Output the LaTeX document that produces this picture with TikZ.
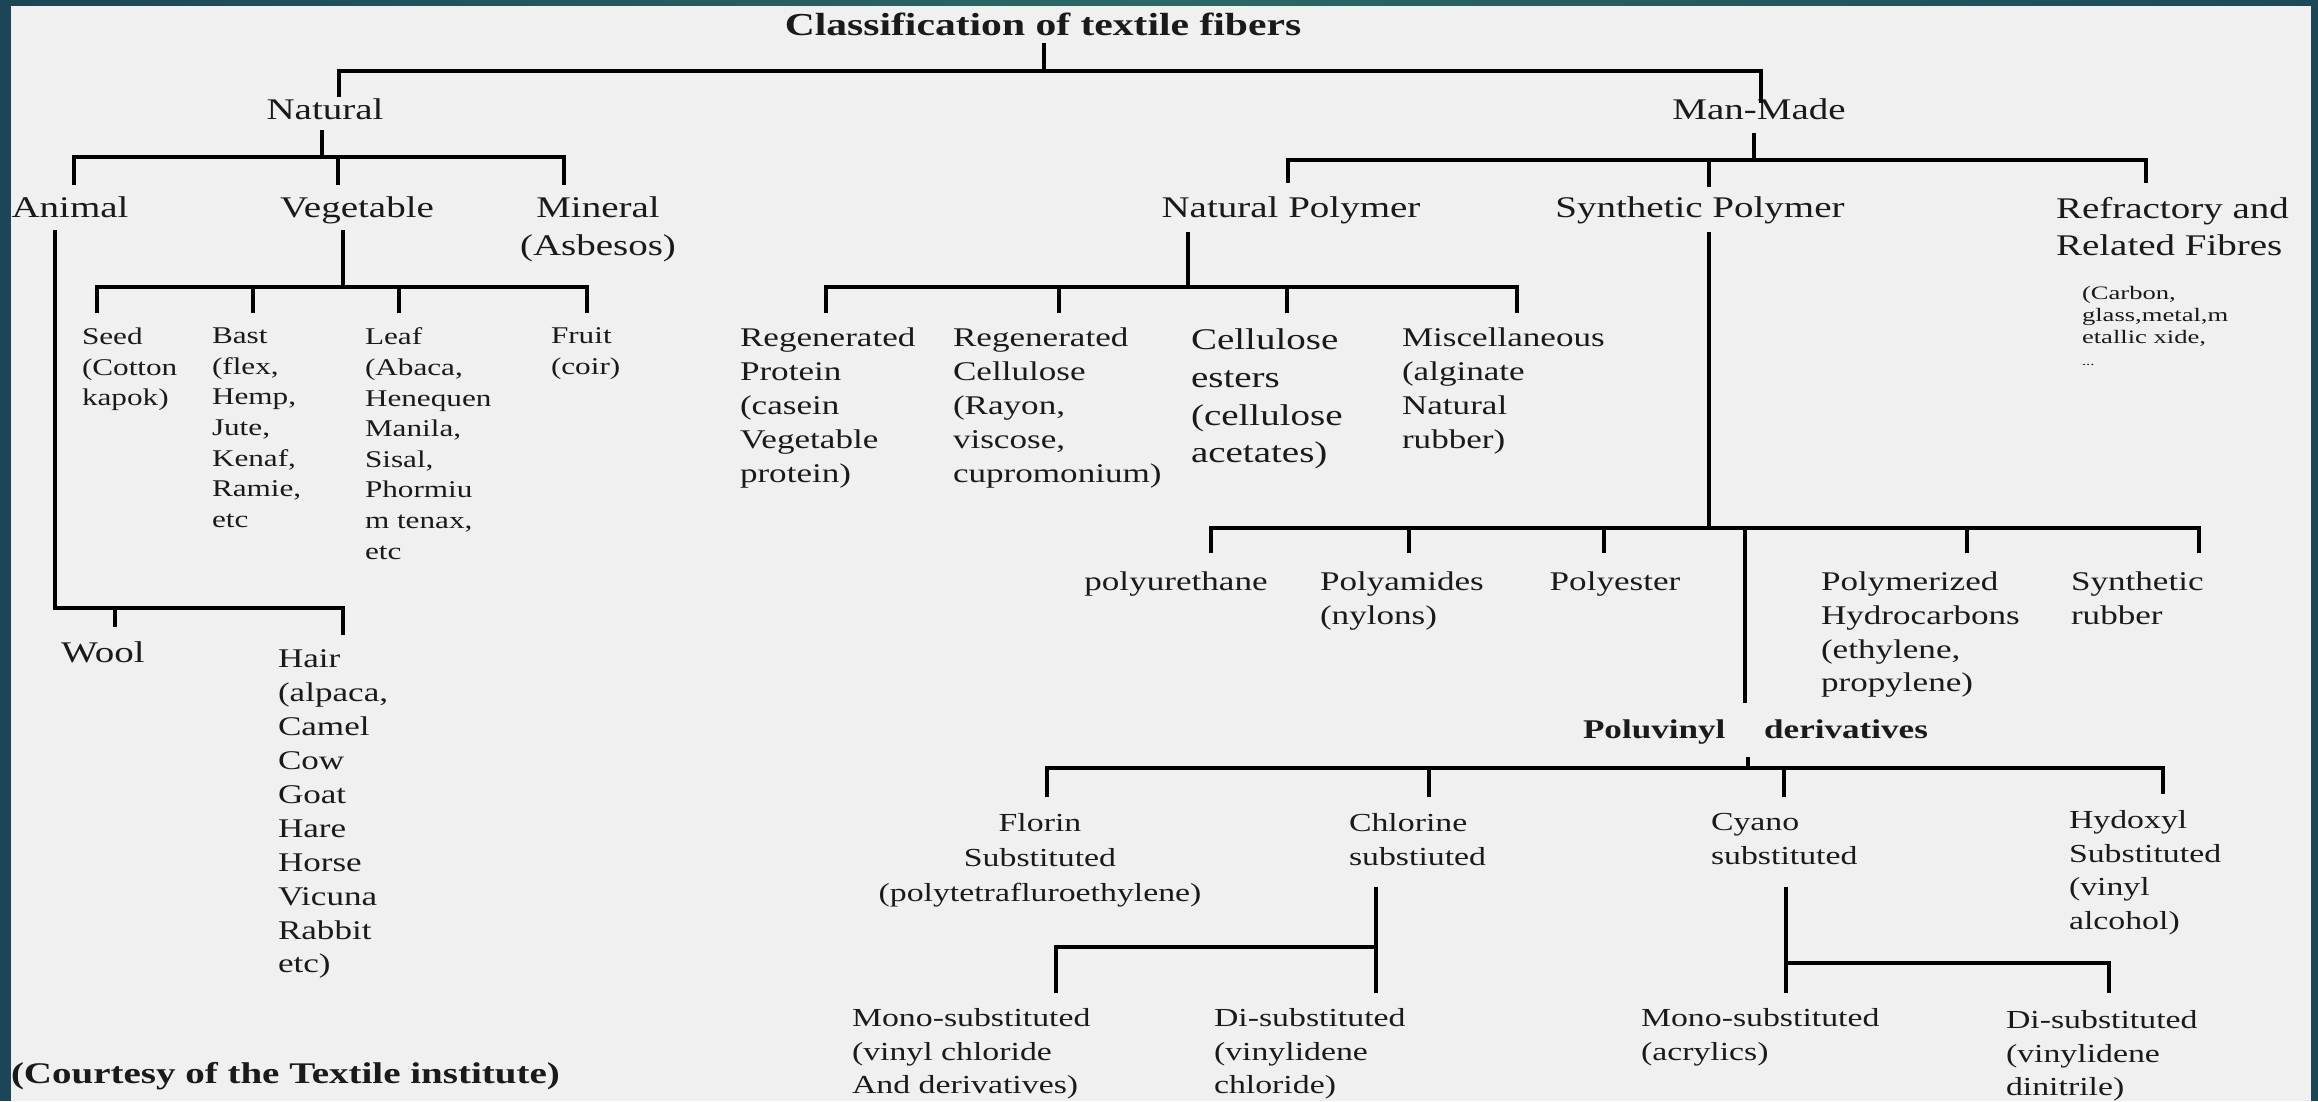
\documentclass[tikz,border=0pt]{standalone}
\usepackage{fontspec}
\setmainfont{Liberation Serif}[FakeStretch=1.3]
\newfontfamily\widefont{Liberation Serif}[FakeStretch=1.4]
\definecolor{ink}{HTML}{1A1A1A}
\definecolor{paper}{HTML}{F0F0F0}
\definecolor{tealA}{HTML}{1B4655}
\definecolor{tealB}{HTML}{2E6866}
\definecolor{tealC}{HTML}{1C4956}
\begin{document}
\begin{tikzpicture}[x=1pt,y=-1pt,
  lbl/.style={inner sep=0pt, outer sep=0pt, text=ink, align=left},
  fbig/.style={lbl, font=\fontsize{30}{38}\selectfont},
  fmid/.style={lbl, font=\fontsize{27}{34}\selectfont},
  fveg/.style={lbl, font=\fontsize{24}{30.6}\selectfont},
  fbot/.style={lbl, font=\fontsize{26}{34}\selectfont},
  ftiny/.style={lbl, font=\widefont\fontsize{19}{22}\selectfont},
  conn/.style={draw=black, line width=4.2pt, line join=miter}]
\useasboundingbox (0,0) rectangle (2318,1101);
% background
\fill[tealA] (0,0) rectangle (2318,1101);
\shade[left color=tealA, right color=tealC, middle color=tealB] (0,0) rectangle (2318,7);
\fill[paper] (11,6) rectangle (2311,1101);

% ---------- nodes ----------
\node[lbl, font=\bfseries\fontsize{32}{38}\selectfont, anchor=north] (title) at (1043,13.3) {Classification of textile fibers};
\node[fbig, anchor=north] (natural) at (325,99) {Natural};
\node[fbig, anchor=north] (manmade) at (1759,99) {Man-Made};

\node[fbig, anchor=north] (animal) at (70,197) {Animal};
\node[fbig, anchor=north] (vegetable) at (357,197) {Vegetable};
\node[fbig, anchor=north, align=center] (mineral) at (598,197) {Mineral\\(Asbesos)};

\node[fveg, anchor=north west] (seed) at (82,328) {Seed\\(Cotton\\kapok)};
\node[fveg, anchor=north west] (bast) at (212,328) {Bast\\(flex,\\Hemp,\\Jute,\\Kenaf,\\Ramie,\\etc};
\node[fveg, anchor=north west] (leaf) at (365,328) {Leaf\\(Abaca,\\Henequen\\Manila,\\Sisal,\\Phormiu\\m tenax,\\etc};
\node[fveg, anchor=north west] (fruit) at (551,328) {Fruit\\(coir)};

\node[fbig, anchor=north] (wool) at (103,642) {Wool};
\node[lbl, font=\fontsize{27}{33.9}\selectfont, anchor=north west] (hair) at (278,650) {Hair\\(alpaca,\\Camel\\Cow\\Goat\\Hare\\Horse\\Vicuna\\Rabbit\\etc)};

\node[lbl, font=\bfseries\fontsize{30}{36}\selectfont, anchor=north west] (courtesy) at (11,1062) {(Courtesy of the Textile institute)};

\node[fbig, anchor=north] (natpoly) at (1291,197) {Natural Polymer};
\node[fbig, anchor=north] (synpoly) at (1700,197) {Synthetic Polymer};
\node[lbl, font=\fontsize{30}{37}\selectfont, anchor=north west] (refr) at (2056,197) {Refractory and\\Related Fibres};
\node[ftiny, anchor=north west] (refrsub) at (2082,286) {(Carbon,\\glass,metal,m\\etallic xide,\\{\fontsize{12}{22}\selectfont ...}};

\node[fmid, anchor=north west] (regprot) at (740,328) {Regenerated\\Protein\\(casein\\Vegetable\\protein)};
\node[fmid, anchor=north west] (regcell) at (953,328) {Regenerated\\Cellulose\\(Rayon,\\viscose,\\cupromonium)};
\node[lbl, font=\fontsize{30}{37.7}\selectfont, anchor=north west] (celest) at (1191,329) {Cellulose\\esters\\(cellulose\\acetates)};
\node[fmid, anchor=north west] (misc) at (1402,328) {Miscellaneous\\(alginate\\Natural\\rubber)};

\node[fmid, anchor=north] (polyur) at (1176,572) {polyurethane};
\node[fmid, anchor=north west] (polyam) at (1320,572) {Polyamides\\(nylons)};
\node[fmid, anchor=north] (polyes) at (1615,572) {Polyester};
\node[lbl, font=\fontsize{27}{33.7}\selectfont, anchor=north west] (polyhc) at (1821,572) {Polymerized\\Hydrocarbons\\(ethylene,\\propylene)};
\node[fmid, anchor=north west] (synrub) at (2071,572) {Synthetic\\rubber};

\node[lbl, font=\bfseries\fontsize{27}{33}\selectfont, anchor=north west] (poluv) at (1583,720) {Poluvinyl\hspace{30pt} derivatives};

\node[lbl, font=\fontsize{26}{35}\selectfont, anchor=north, align=center] (florin) at (1040,813.5) {Florin\\Substituted\\(polytetrafluroethylene)};
\node[fbot, anchor=north west] (chlor) at (1349,813.5) {Chlorine\\substiuted};
\node[fbot, anchor=north west] (cyano) at (1711,813.5) {Cyano\\substituted};
\node[lbl, font=\fontsize{26}{33.5}\selectfont, anchor=north west] (hydox) at (2069,810.5) {Hydoxyl\\Substituted\\(vinyl\\alcohol)};

\node[lbl, font=\fontsize{26}{33.5}\selectfont, anchor=north west] (mono1) at (852,1008.5) {Mono-substituted\\(vinyl chloride\\And derivatives)};
\node[lbl, font=\fontsize{26}{33.5}\selectfont, anchor=north west] (di1) at (1214,1008.5) {Di-substituted\\(vinylidene\\chloride)};
\node[lbl, font=\fontsize{26}{33.5}\selectfont, anchor=north west] (mono2) at (1641,1008.5) {Mono-substituted\\(acrylics)};
\node[lbl, font=\fontsize{26}{33.5}\selectfont, anchor=north west] (di2) at (2006,1010.5) {Di-substituted\\(vinylidene\\dinitrile)};

% ---------- junction coordinates ----------
\coordinate (jT) at (1044,71);
\coordinate (jN) at (322,157);
\coordinate (jA) at (55,608);
\coordinate (jV) at (343,287);
\coordinate (jM) at (1754,160);
\coordinate (jNP) at (1188,287);
\coordinate (jSP) at (1709,528);
\coordinate (jPV) at (1748,768);
\coordinate (jCl) at (1376,947);
\coordinate (jCy) at (1786,963);

% ---------- connectors ----------
% root
\draw[conn] (1044,43) -- (jT);
\draw[conn] (339,97) -- (339,71) -- (1761,71) -- (1761,103);
% natural
\draw[conn] (322,130) -- (jN);
\draw[conn] (74,185) -- (74,157) -- (564,157) -- (564,185);
\draw[conn] (338,157) -- (338,185);
% animal
\draw[conn] (55,230) -- (jA) -- (343,608) -- (343,635);
\draw[conn] (115,608) -- (115,627);
% vegetable
\draw[conn] (343,230) -- (jV);
\draw[conn] (97,313) -- (97,287) -- (587,287) -- (587,313);
\draw[conn] (253,287) -- (253,313);
\draw[conn] (399,287) -- (399,313);
% man-made
\draw[conn] (1754,133) -- (jM);
\draw[conn] (1288,183) -- (1288,160) -- (2146,160) -- (2146,183);
\draw[conn] (1709,160) -- (1709,187);
% natural polymer
\draw[conn] (1188,232) -- (jNP);
\draw[conn] (826,313) -- (826,287) -- (1517,287) -- (1517,313);
\draw[conn] (1059,287) -- (1059,313);
\draw[conn] (1287,287) -- (1287,313);
% synthetic polymer
\draw[conn] (1709,232) -- (jSP);
\draw[conn] (1211,553) -- (1211,528) -- (2199,528) -- (2199,553);
\draw[conn] (1409,528) -- (1409,553);
\draw[conn] (1604,528) -- (1604,553);
\draw[conn] (1967,528) -- (1967,553);
\draw[conn] (1745,528) -- (1745,703);
% poluvinyl
\draw[conn] (1748,757) -- (jPV);
\draw[conn] (1047,797) -- (1047,768) -- (2163,768) -- (2163,794);
\draw[conn] (1429,768) -- (1429,797);
\draw[conn] (1784,768) -- (1784,797);
% chlorine
\draw[conn] (1376,887) -- (1376,993);
\draw[conn] (jCl) -- (1056,947) -- (1056,993);
% cyano
\draw[conn] (1786,887) -- (1786,993);
\draw[conn] (jCy) -- (2109,963) -- (2109,993);
\end{tikzpicture}
\end{document}
